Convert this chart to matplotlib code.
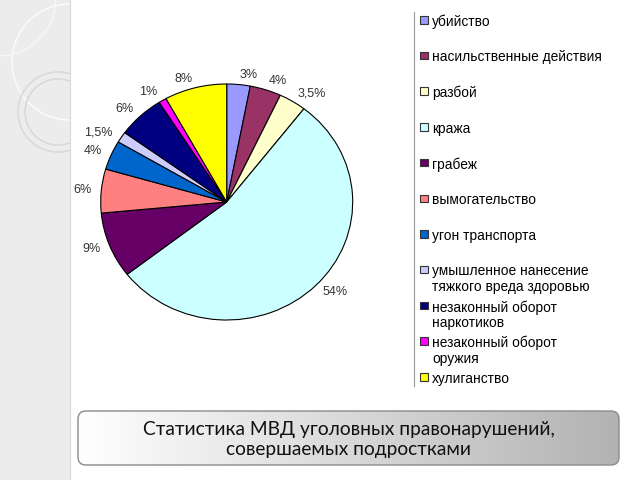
import numpy as np
import matplotlib
matplotlib.use("Agg")
import matplotlib.pyplot as plt
from matplotlib.patches import FancyBboxPatch, Circle, Rectangle

categories = ["убийство", "насильственные действия", "разбой", "кража", "грабеж",
              "вымогательство", "угон транспорта",
              "умышленное нанесение\nтяжкого вреда здоровью",
              "незаконный оборот\nнаркотиков", "незаконный оборот\nоружия", "хулиганство"]
values = [3, 4, 3.5, 54, 9, 6, 4, 1.5, 6, 1, 8]
labels = ["3%", "4%", "3,5%", "54%", "9%", "6%", "4%", "1,5%", "6%", "1%", "8%"]
colors = ["#9999FF", "#993366", "#FFFFCC", "#CCFFFF", "#660066", "#FF8080",
          "#0066CC", "#CCCCFF", "#000080", "#FF00FF", "#FFFF00"]
caption = "Статистика МВД уголовных правонарушений,\nсовершаемых подростками"

W, H = 640, 480
fig = plt.figure(figsize=(6.4, 4.8), dpi=100)
fig.patch.set_facecolor("white")

# background decoration (pixel coordinates)
bg = fig.add_axes([0, 0, 1, 1], zorder=0)
bg.set_xlim(0, W); bg.set_ylim(H, 0); bg.axis("off")
strip = Rectangle((0, 0), 70, H, facecolor="#ECECEC", edgecolor="none")
bg.add_patch(strip)
bg.plot([70, 70], [0, H], color="#D8D8D8", lw=0.8)
for (cx, cy, r, c, lw) in [(70, 62, 58, "#FAFAFA", 1.2), (-2, -2, 58, "#F7F7F7", 1.0),
                           (58, 112, 40, "#D9D9D9", 1.2), (58, 112, 33, "#D9D9D9", 1.2)]:
    circ = Circle((cx, cy), r, fill=False, edgecolor=c, lw=lw)
    bg.add_patch(circ)
    circ.set_clip_path(strip)

# legend separator line
bg.plot([414, 414], [12, 386], color="#999999", lw=0.8)

# pie
ax = fig.add_axes([69.2 / W, (480 - 349.5) / H, 315 / W, 295 / H], zorder=2)
wedges, texts = ax.pie(values, colors=colors, labels=labels, startangle=90, counterclock=False,
                       labeldistance=1.08,
                       wedgeprops=dict(edgecolor="black", linewidth=0.8),
                       textprops=dict(fontsize=9, color="#333333", family="Liberation Sans"))
ax.set_aspect("auto")
ax.set_xlim(-1.25, 1.25); ax.set_ylim(-1.25, 1.25)

# legend (drawn entry by entry, fixed pitch as in the reference)
for i, (name, col) in enumerate(zip(categories, colors)):
    y = 20 + i * 35.7
    bg.add_patch(Rectangle((420, y - 4), 7.5, 7.5, facecolor=col, edgecolor="#333333", lw=0.8, zorder=3))
    bg.text(432, y - 5.5, name, ha="left", va="top", fontsize=9.9, family="Liberation Sans",
            color="black", linespacing=1.12, zorder=3)

# caption box
cap = fig.add_axes([0, 0, 1, 1], zorder=3)
cap.set_xlim(0, W); cap.set_ylim(H, 0); cap.axis("off")
box = FancyBboxPatch((78, 411), 541, 54, boxstyle="round,pad=0,rounding_size=8",
                     facecolor="none", edgecolor="#8A8A8A", lw=1.0, zorder=4)
cap.add_patch(box)
grad = np.linspace(1.0, 0.70, 256).reshape(1, -1)
im = cap.imshow(np.dstack([grad, grad, grad]), extent=(78, 619, 465, 411), aspect="auto", zorder=3)
im.set_clip_path(box)
cap.set_xlim(0, W); cap.set_ylim(H, 0)
cap.text(349, 439.5, caption, ha="center", va="center", fontsize=13.8, family="Lato",
         color="#111111", linespacing=1.2, zorder=5)

fig.savefig("out.png", dpi=100)
